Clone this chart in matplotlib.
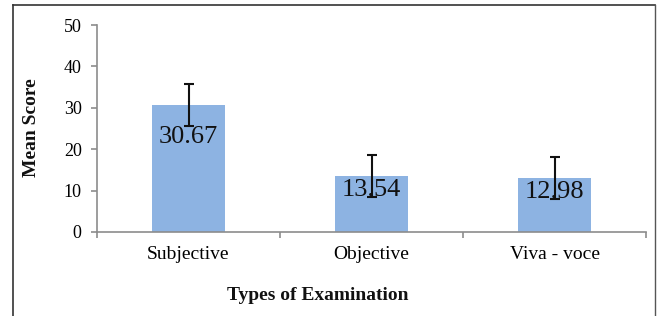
import matplotlib
matplotlib.use("Agg")
import matplotlib.pyplot as plt
from matplotlib.lines import Line2D
import numpy as np

categories = ["Subjective", "Objective", "Viva - voce"]
mean_scores = [30.67, 13.54, 12.98]
errors = [5.0, 5.1, 5.1]
value_labels = ["30.67", "13.54", "12.98"]
y_ticks = [0, 10, 20, 30, 40, 50]

plt.rcParams['font.family'] = ['Liberation Serif', 'DejaVu Serif']

W, H = 659, 316
fig = plt.figure(figsize=(W / 100, H / 100), dpi=100)
ax = fig.add_axes([97 / W, 1 - 232 / H, (646 - 97) / W, (232 - 25) / H])

x = np.arange(len(categories))
ax.bar(x, mean_scores, width=0.4, color="#8DB3E2", edgecolor="none", zorder=2)
ax.errorbar(x, mean_scores, yerr=errors, fmt="none", ecolor="#111111",
            elinewidth=1.5, capsize=3.5, capthick=1.5, zorder=3)
for xi, v, lab in zip(x, mean_scores, value_labels):
    ax.text(xi, v * 0.75, lab, ha="center", va="center", fontsize=19,
            color="#111111", zorder=4)

ax.set_xlim(-0.5, len(categories) - 0.5)
ax.set_ylim(0, 50)
ax.set_yticks(y_ticks)
ax.set_yticklabels([str(t) for t in y_ticks], fontsize=13)
ax.set_xticks(x)
ax.set_xticklabels(categories, fontsize=14)
ax.tick_params(axis="x", length=0, pad=10)
ax.set_xticks(np.arange(-0.5, len(categories)), minor=True)
ax.tick_params(axis="x", which="minor", length=4, color="#8c8c8c", width=1.2, direction="out")
ax.tick_params(axis="y", length=4, color="#8c8c8c", width=1.2, pad=7, direction="out")
for s in ["top", "right"]:
    ax.spines[s].set_visible(False)
for s in ["left", "bottom"]:
    ax.spines[s].set_color("#8c8c8c")
    ax.spines[s].set_linewidth(1.2)

fig.text(31 / W, 1 - 128 / H, "Mean Score", rotation=90, ha="center", va="center",
         fontsize=14, fontweight="bold", color="#111111")
fig.text(318 / W, 1 - 296 / H, "Types of Examination", ha="center", va="center",
         fontsize=14, fontweight="bold", color="#111111")

# outer frame (open at bottom)
bx0, bx1, by0 = 13 / W, 655 / W, 1 - 5 / H
fig.add_artist(Line2D([bx0, bx0], [0, by0], transform=fig.transFigure, color="#333333", lw=1.2))
fig.add_artist(Line2D([bx0, bx1], [by0, by0], transform=fig.transFigure, color="#333333", lw=1.2))
fig.add_artist(Line2D([bx1, bx1], [0, by0], transform=fig.transFigure, color="#555555", lw=1.0))

fig.savefig("out.png", dpi=100)
